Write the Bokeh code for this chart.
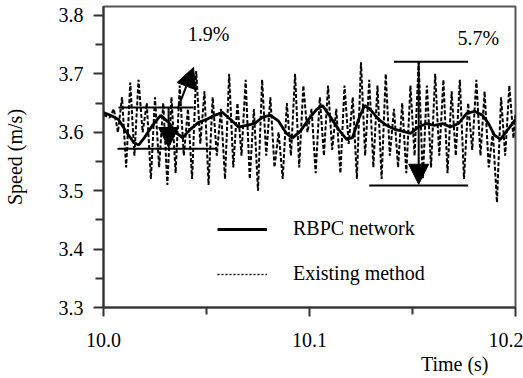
from bokeh.plotting import figure
from bokeh.models import (Range1d, FixedTicker, Arrow, NormalHead, Label, Legend, LegendItem, Title)
from bokeh.embed import file_html
from bokeh.resources import INLINE

# ---- data ----
rbpc_t = [10.0000, 10.0034, 10.0073, 10.0112, 10.0146, 10.0170, 10.0199, 10.0238,
          10.0277, 10.0316, 10.0350, 10.0384, 10.0422, 10.0461, 10.0500, 10.0539,
          10.0578, 10.0617, 10.0655, 10.0694, 10.0733, 10.0772, 10.0811, 10.0850,
          10.0888, 10.0917, 10.0956, 10.0995, 10.1034, 10.1063, 10.1102, 10.1141,
          10.1180, 10.1209, 10.1238, 10.1267, 10.1296, 10.1335, 10.1374, 10.1413,
          10.1451, 10.1490, 10.1529, 10.1568, 10.1607, 10.1646, 10.1684, 10.1723,
          10.1762, 10.1801, 10.1840, 10.1869, 10.1898, 10.1927, 10.2000]
rbpc_v = [3.634, 3.629, 3.622, 3.600, 3.583, 3.578, 3.591, 3.612,
          3.629, 3.617, 3.600, 3.591, 3.605, 3.617, 3.622, 3.629,
          3.634, 3.622, 3.609, 3.612, 3.615, 3.626, 3.629, 3.619,
          3.598, 3.590, 3.602, 3.622, 3.639, 3.646, 3.626, 3.605,
          3.588, 3.591, 3.622, 3.646, 3.639, 3.622, 3.612, 3.605,
          3.602, 3.598, 3.609, 3.615, 3.612, 3.615, 3.609, 3.615,
          3.632, 3.636, 3.629, 3.615, 3.595, 3.588, 3.622]

exist_t = [10.000, 10.003, 10.005, 10.007, 10.009, 10.011, 10.013, 10.015, 10.017, 10.019,
           10.021, 10.023, 10.025, 10.027, 10.029, 10.031, 10.033, 10.035, 10.037, 10.039,
           10.041, 10.043, 10.045, 10.047, 10.049, 10.051, 10.053, 10.055, 10.057, 10.059,
           10.061, 10.063, 10.065, 10.067, 10.069, 10.071, 10.073, 10.075, 10.077, 10.079,
           10.081, 10.083, 10.085, 10.087, 10.089, 10.091, 10.093, 10.095, 10.097, 10.099,
           10.101, 10.103, 10.105, 10.107, 10.109, 10.111, 10.113, 10.115, 10.117, 10.119,
           10.121, 10.123, 10.125, 10.127, 10.129, 10.131, 10.133, 10.135, 10.137, 10.139,
           10.141, 10.143, 10.145, 10.147, 10.149, 10.151, 10.153, 10.155, 10.157, 10.159,
           10.161, 10.163, 10.165, 10.167, 10.169, 10.171, 10.173, 10.175, 10.177, 10.179,
           10.181, 10.183, 10.185, 10.187, 10.189, 10.191, 10.193, 10.195, 10.197, 10.199, 10.200]
exist_v = [3.630, 3.625, 3.640, 3.600, 3.660, 3.540, 3.685, 3.560, 3.690, 3.600,
           3.650, 3.520, 3.660, 3.540, 3.650, 3.510, 3.660, 3.530, 3.680, 3.560,
           3.640, 3.520, 3.705, 3.580, 3.670, 3.510, 3.660, 3.560, 3.640, 3.520,
           3.700, 3.540, 3.650, 3.560, 3.690, 3.520, 3.640, 3.500, 3.690, 3.560,
           3.660, 3.540, 3.600, 3.520, 3.650, 3.560, 3.700, 3.540, 3.680, 3.600,
           3.640, 3.530, 3.660, 3.560, 3.680, 3.570, 3.640, 3.530, 3.680, 3.580,
           3.660, 3.520, 3.720, 3.560, 3.690, 3.540, 3.680, 3.520, 3.700, 3.560,
           3.640, 3.540, 3.650, 3.530, 3.680, 3.560, 3.720, 3.520, 3.680, 3.540,
           3.700, 3.560, 3.690, 3.530, 3.670, 3.560, 3.690, 3.520, 3.650, 3.570,
           3.690, 3.560, 3.670, 3.540, 3.600, 3.480, 3.660, 3.560, 3.680, 3.590, 3.630]

x_ticks = [10.0, 10.1, 10.2]
y_ticks = [3.3, 3.4, 3.5, 3.6, 3.7, 3.8]
series_names = ["RBPC network", "Existing method"]
notes = ["1.9%", "5.7%"]

FONT = "Liberation Serif"
FS = "20px"

p = figure(width=523, height=378, output_backend="svg", toolbar_location=None,
           x_range=Range1d(10.0, 10.2), y_range=Range1d(3.3, 3.8154),
           min_border_left=103, min_border_right=8, min_border_top=6, min_border_bottom=71,
           background_fill_color="white", border_fill_color="white")
p.grid.visible = False
p.outline_line_color = "#555555"
p.outline_line_width = 2

for ax in (p.xaxis[0], p.yaxis[0]):
    ax.axis_line_color = "#333333"
    ax.axis_line_width = 2
    ax.major_tick_line_color = "#333333"
    ax.minor_tick_line_color = "#333333"
    ax.major_tick_line_width = 2
    ax.minor_tick_line_width = 2
    ax.major_tick_in = 0
    ax.minor_tick_in = 0
    ax.major_label_text_font = FONT
    ax.major_label_text_font_size = FS
    ax.major_label_text_color = "black"
    ax.axis_label_text_font = FONT
    ax.axis_label_text_font_size = FS
    ax.axis_label_text_font_style = "normal"
    ax.axis_label_text_color = "black"

p.xaxis.ticker = FixedTicker(ticks=x_ticks, minor_ticks=[10.05, 10.15])
p.xaxis.major_label_overrides = {t: f"{t:.1f}" for t in x_ticks}
p.xaxis.major_tick_out = 9
p.xaxis.minor_tick_out = 7
p.xaxis.major_label_standoff = 16

p.yaxis.ticker = FixedTicker(ticks=y_ticks, minor_ticks=[3.35, 3.45, 3.55, 3.65, 3.75])
p.yaxis.major_label_overrides = {t: f"{t:.1f}" for t in y_ticks}
p.yaxis.major_tick_out = 10
p.yaxis.minor_tick_out = 8
p.yaxis.major_label_standoff = 10
p.yaxis.axis_label = "Speed (m/s)"
p.yaxis.axis_label_standoff = 30

p.add_layout(Title(text="Time (s)", align="right", offset=27, text_font=FONT,
                   text_font_size=FS, text_font_style="normal", text_color="black",
                   standoff=2), "below")

r_exist = p.line(exist_t, exist_v, line_color="black", line_width=2, line_dash="4 2")
r_rbpc = p.line(rbpc_t, rbpc_v, line_color="black", line_width=2.8)
# legend sample of the fine dotted style (drawn outside the visible y range)
r_exist_key = p.line([10.0, 10.2], [3.0, 3.0], line_color="black", line_width=1.5,
                     line_dash="2 2")

# annotation bars and arrows
p.segment(x0=[10.0073, 10.0068, 10.141, 10.129], y0=[3.6425, 3.572, 3.721, 3.509],
          x1=[10.0437, 10.0553, 10.177, 10.177], y1=[3.6425, 3.572, 3.721, 3.509],
          line_color="black", line_width=2)
for (xs, ys, xe, ye) in [(10.0316, 3.6425, 10.0316, 3.574),
                         (10.0360, 3.640, 10.0437, 3.711),
                         (10.1530, 3.721, 10.1530, 3.511)]:
    p.add_layout(Arrow(x_start=xs, y_start=ys, x_end=xe, y_end=ye, line_width=2,
                       line_color="black",
                       end=NormalHead(size=20, fill_color="black", line_color="black")))

p.add_layout(Label(x=10.051, y=3.769, text=notes[0], text_font=FONT, text_font_size=FS,
                   text_color="black", text_align="center", text_baseline="middle"))
p.add_layout(Label(x=10.182, y=3.762, text=notes[1], text_font=FONT, text_font_size=FS,
                   text_color="black", text_align="center", text_baseline="middle"))

legend = Legend(items=[LegendItem(label=series_names[0], renderers=[r_rbpc]),
                       LegendItem(label=series_names[1], renderers=[r_exist_key])],
                location=(114, 22), padding=0, margin=0, spacing=22,
                glyph_width=50, glyph_height=20, label_height=20, label_standoff=26,
                border_line_color=None, background_fill_alpha=0,
                label_text_font=FONT, label_text_font_size=FS, label_text_color="black")
p.add_layout(legend)

open("out.html", "w").write(file_html(p, INLINE))
